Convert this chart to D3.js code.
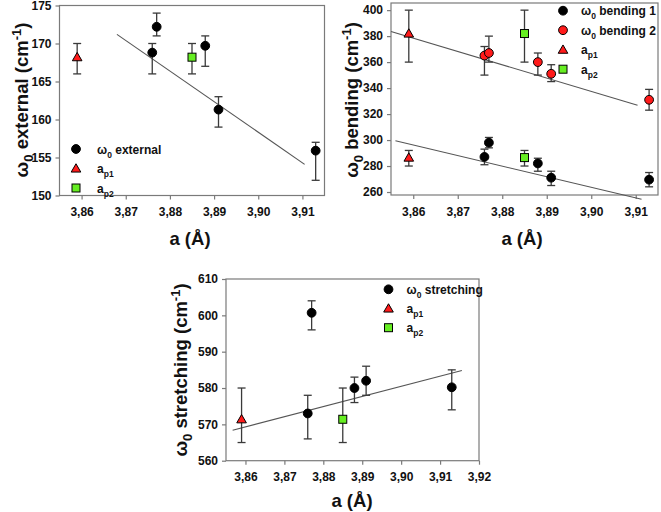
<!DOCTYPE html>
<html>
<head>
<meta charset="utf-8">
<script src="https://cdn.jsdelivr.net/npm/d3@7"></script>
<style>
  html, body { margin: 0; padding: 0; background: #fff; }
  svg text { font-family: "Liberation Sans", Arial, sans-serif; font-weight: bold; }
</style>
</head>
<body>
<svg id="chart" width="661" height="512"></svg>
<script>
// ---------- Panel 1: external ----------
const extA = [3.876, 3.877, 3.888, 3.891, 3.913];
const extW = [168.8, 172.2, 169.7, 161.3, 155.9];
const extLo = [166, 171, 167, 159, 152];
const extHi = [170, 174, 171, 163, 157];
const extAp1 = [3.859], extAp1W = [168.2], extAp1Lo = [166], extAp1Hi = [170];
const extAp2 = [3.885], extAp2W = [168.2], extAp2Lo = [166], extAp2Hi = [170];
const extFitA = [3.868, 3.9105];
const extFitW = [171.2, 154.1];
const extYTicks = [150, 155, 160, 165, 170, 175];

// ---------- Panel 2: bending ----------
const bendA = [3.876, 3.877, 3.888, 3.891, 3.913];
const bend1W = [287, 298, 282, 271, 269.5];
const bend1Lo = [281, 294, 276, 265, 264];
const bend1Hi = [293, 302, 286, 276, 275];
const bend2W = [365, 367, 360, 351, 331];
const bend2Lo = [350, 360, 350, 345, 323];
const bend2Hi = [372, 380, 367, 358, 339];
const bendAp1 = [3.859, 3.859], bendAp1W = [382, 286.5], bendAp1Lo = [360, 280], bendAp1Hi = [400, 292];
const bendAp2 = [3.885, 3.885], bendAp2W = [382, 286.5], bendAp2Lo = [360, 280], bendAp2Hi = [400, 292];
const bendFit1A = [3.856, 3.9113];
const bendFit1W = [299.5, 254.4];
const bendFit2A = [3.855, 3.9104];
const bendFit2W = [383.5, 326.8];
const bendYTicks = [260, 280, 300, 320, 340, 360, 380, 400];

// ---------- Panel 3: stretching ----------
const strA = [3.876, 3.877, 3.888, 3.891, 3.913];
const strW = [573, 600.7, 580, 582, 580.2];
const strLo = [566, 596, 576, 578, 574];
const strHi = [578, 604, 583, 586, 585];
const strAp1 = [3.859], strAp1W = [571.4], strAp1Lo = [565], strAp1Hi = [580];
const strAp2 = [3.885], strAp2W = [571.4], strAp2Lo = [565], strAp2Hi = [580];
const strFitA = [3.8567, 3.9156];
const strFitW = [568.4, 584.8];
const strYTicks = [560, 570, 580, 590, 600, 610];

const xTicksTop = [3.86, 3.87, 3.88, 3.89, 3.90, 3.91];
const xTicksBottom = [3.86, 3.87, 3.88, 3.89, 3.90, 3.91, 3.92];

const RED = "#ff1a1a", GREEN = "#66ee22", BLACK = "#000";
const AXIS = "#7a7a7a", ERR = "#3a3a3a", FIT = "#555";

const svg = d3.select("#chart");
const fmtX = v => d3.format(".2f")(v).replace(".", ",");

function zipPts(a, w, lo, hi) { return a.map((d, i) => ({ a: d, w: w[i], lo: lo[i], hi: hi[i] })); }

function panel(cfg) {
  const g = svg.append("g");
  const x = d3.scaleLinear().domain(cfg.xDomain).range(cfg.xRange);
  const y = d3.scaleLinear().domain(cfg.yDomain).range(cfg.yRange);
  const [x0, x1] = cfg.xRange, [yb, yt] = cfg.yRange;

  g.append("rect").attr("x", x0).attr("y", yt).attr("width", x1 - x0).attr("height", yb - yt)
    .attr("fill", "none").attr("stroke", AXIS).attr("stroke-width", 1.2);

  const xAxis = d3.axisBottom(x).tickValues(cfg.xTicks).tickFormat(fmtX).tickSize(4).tickPadding(8);
  const gx = g.append("g").attr("transform", `translate(0,${yb})`).call(xAxis);
  const yAxis = d3.axisLeft(y).tickValues(cfg.yTicks).tickFormat(d3.format("d")).tickSize(4).tickPadding(4);
  const gy = g.append("g").attr("transform", `translate(${x0},0)`).call(yAxis);
  [gx, gy].forEach(ax => {
    ax.select(".domain").remove();
    ax.selectAll(".tick line").attr("stroke", AXIS).attr("stroke-width", 1.2);
    ax.selectAll(".tick text").attr("fill", "#111").style("font-size", "12px").style("font-weight", "bold")
      .style("font-family", "Liberation Sans, Arial, sans-serif");
  });

  cfg.fits.forEach(f => {
    g.append("path").datum(f.a.map((d, i) => [d, f.w[i]]))
      .attr("d", d3.line().x(d => x(d[0])).y(d => y(d[1])))
      .attr("stroke", FIT).attr("stroke-width", 1.1).attr("fill", "none");
  });

  cfg.series.forEach(s => {
    const pts = zipPts(s.a, s.w, s.lo, s.hi);
    const eb = g.append("g");
    pts.forEach(p => {
      eb.append("line").attr("x1", x(p.a)).attr("x2", x(p.a)).attr("y1", y(p.lo)).attr("y2", y(p.hi))
        .attr("stroke", ERR).attr("stroke-width", 1.3);
      [p.lo, p.hi].forEach(v => eb.append("line").attr("x1", x(p.a) - 4).attr("x2", x(p.a) + 4)
        .attr("y1", y(v)).attr("y2", y(v)).attr("stroke", ERR).attr("stroke-width", 1.3));
    });
    pts.forEach(p => drawMarker(g, s.shape, s.fill, x(p.a), y(p.w)));
  });

  cfg.legend.items.forEach((it, i) => {
    const ly = cfg.legend.y + i * cfg.legend.dy;
    drawMarker(g, it.shape, it.fill, cfg.legend.x, ly);
    const t = g.append("text").attr("x", cfg.legend.x + cfg.legend.tx).attr("y", ly + 4.5)
      .style("font-size", "12px").attr("fill", "#111");
    t.append("tspan").text(it.main);
    t.append("tspan").text(it.sub).attr("dy", 4).style("font-size", "8.5px");
    if (it.rest) t.append("tspan").text(it.rest).attr("dy", -4);
  });

  g.append("text").attr("x", cfg.xTitle[0]).attr("y", cfg.xTitle[1]).attr("text-anchor", "middle")
    .style("font-size", "18.5px").attr("fill", "#111").text("a (Å)");
  const yt_ = g.append("text").attr("transform", `translate(${cfg.yTitle[0]},${cfg.yTitle[1]}) rotate(-90)`)
    .attr("text-anchor", "middle").style("font-size", "18.5px").attr("fill", "#111");
  yt_.append("tspan").text("ω");
  yt_.append("tspan").text("0").attr("dy", 5).style("font-size", "13px");
  yt_.append("tspan").text(" " + cfg.yName + " (cm").attr("dy", -5);
  yt_.append("tspan").text("-1").attr("dy", -7).style("font-size", "13px");
  yt_.append("tspan").text(")").attr("dy", 7);
}

function drawMarker(g, shape, fill, cx, cy) {
  if (shape === "circle") {
    g.append("circle").attr("cx", cx).attr("cy", cy).attr("r", 4.4)
      .attr("fill", fill).attr("stroke", "#000").attr("stroke-width", 1);
  } else if (shape === "triangle") {
    g.append("path").attr("d", d3.symbol().type(d3.symbolTriangle).size(40)())
      .attr("transform", `translate(${cx},${cy + 0.8})`)
      .attr("fill", fill).attr("stroke", "#000").attr("stroke-width", 1);
  } else {
    g.append("rect").attr("x", cx - 4).attr("y", cy - 4).attr("width", 8).attr("height", 8)
      .attr("fill", fill).attr("stroke", "#000").attr("stroke-width", 1);
  }
}

const apLegend = [
  { shape: "triangle", fill: RED, main: "a", sub: "p1" },
  { shape: "square", fill: GREEN, main: "a", sub: "p2" }
];

panel({
  xDomain: [3.855, 3.915], xRange: [59.5, 324.5],
  yDomain: [150, 175], yRange: [195.5, 5.5],
  xTicks: xTicksTop, yTicks: extYTicks,
  fits: [{ a: extFitA, w: extFitW }],
  series: [
    { a: extA, w: extW, lo: extLo, hi: extHi, shape: "circle", fill: BLACK },
    { a: extAp1, w: extAp1W, lo: extAp1Lo, hi: extAp1Hi, shape: "triangle", fill: RED },
    { a: extAp2, w: extAp2W, lo: extAp2Lo, hi: extAp2Hi, shape: "square", fill: GREEN }
  ],
  legend: { x: 76, y: 149, dy: 19.5, tx: 21, items: [
    { shape: "circle", fill: BLACK, main: "ω", sub: "0", rest: " external" }, ...apLegend] },
  xTitle: [190, 245], yTitle: [28, 100], yName: "external"
});

panel({
  xDomain: [3.855, 3.915], xRange: [391, 658],
  yDomain: [257.7, 405.5], yRange: [195, 3],
  xTicks: xTicksTop, yTicks: bendYTicks,
  fits: [{ a: bendFit1A, w: bendFit1W }, { a: bendFit2A, w: bendFit2W }],
  series: [
    { a: bendA, w: bend1W, lo: bend1Lo, hi: bend1Hi, shape: "circle", fill: BLACK },
    { a: bendA, w: bend2W, lo: bend2Lo, hi: bend2Hi, shape: "circle", fill: RED },
    { a: bendAp1, w: bendAp1W, lo: bendAp1Lo, hi: bendAp1Hi, shape: "triangle", fill: RED },
    { a: bendAp2, w: bendAp2W, lo: bendAp2Lo, hi: bendAp2Hi, shape: "square", fill: GREEN }
  ],
  legend: { x: 563, y: 10.7, dy: 19.5, tx: 18, items: [
    { shape: "circle", fill: BLACK, main: "ω", sub: "0", rest: " bending 1" },
    { shape: "circle", fill: RED, main: "ω", sub: "0", rest: " bending 2" }, ...apLegend] },
  xTitle: [522, 245], yTitle: [358, 100], yName: "bending"
});

panel({
  xDomain: [3.855, 3.92], xRange: [226, 479],
  yDomain: [560, 610], yRange: [460.7, 279],
  xTicks: xTicksBottom, yTicks: strYTicks,
  fits: [{ a: strFitA, w: strFitW }],
  series: [
    { a: strA, w: strW, lo: strLo, hi: strHi, shape: "circle", fill: BLACK },
    { a: strAp1, w: strAp1W, lo: strAp1Lo, hi: strAp1Hi, shape: "triangle", fill: RED },
    { a: strAp2, w: strAp2W, lo: strAp2Lo, hi: strAp2Hi, shape: "square", fill: GREEN }
  ],
  legend: { x: 388.5, y: 289.3, dy: 19.2, tx: 18, items: [
    { shape: "circle", fill: BLACK, main: "ω", sub: "0", rest: " stretching" }, ...apLegend] },
  xTitle: [352, 507], yTitle: [187, 370], yName: "stretching"
});
</script>
</body>
</html>
